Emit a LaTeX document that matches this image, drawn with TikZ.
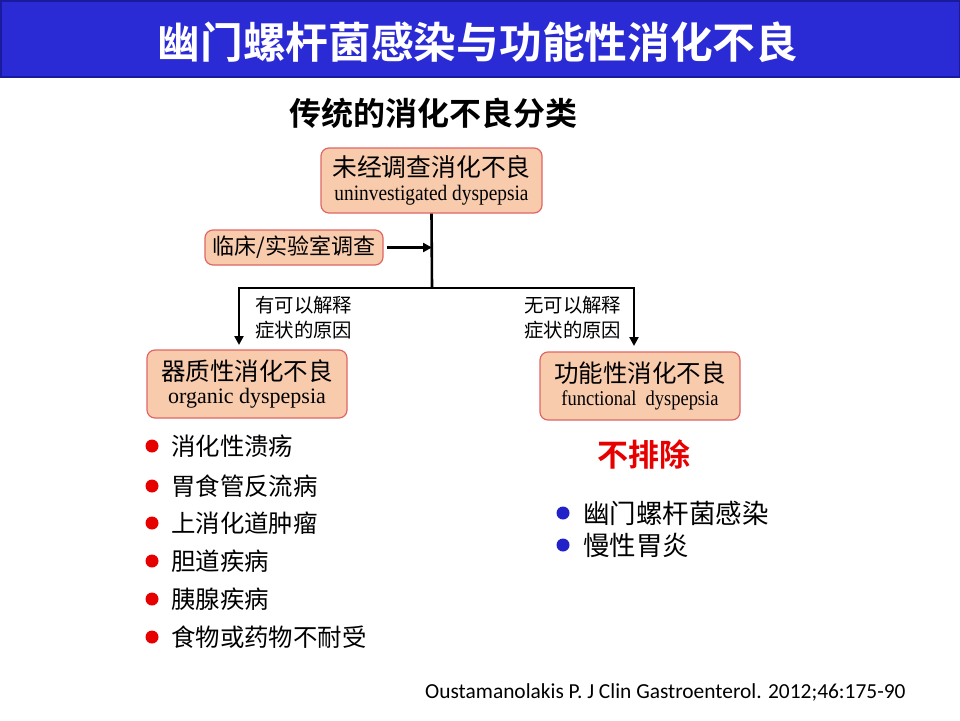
\documentclass[tikz,border=0pt]{standalone}
\usepackage{fontspec}
\setmainfont{Liberation Serif}
\newfontfamily\tnr[FakeStretch=0.88]{Liberation Serif}
\newfontfamily\cjk{Noto Sans CJK SC}
\newfontfamily\cjkb{Noto Sans CJK SC Bold}
\newfontfamily\cali{Carlito}
\usetikzlibrary{arrows.meta}
\definecolor{titleblue}{HTML}{2B2BD6}
\definecolor{titleedge}{HTML}{1A1A9E}
\definecolor{peach}{HTML}{F8CBAD}
\definecolor{boxedge}{HTML}{E06666}
\definecolor{bred}{HTML}{E60000}
\definecolor{bblue}{HTML}{2222C8}
\begin{document}
\begin{tikzpicture}[x=1pt,y=-1pt,
  box/.style={draw=boxedge,line width=1.2pt,fill=peach,rounded corners=8pt,inner sep=0pt,align=center},
  conn/.style={line width=2.6pt,draw=black},
  tip/.style={Triangle[length=9pt,width=9pt]},
  arr/.style={conn,-{Triangle[length=9pt,width=9pt]}},
  lab/.style={font=\cjk\fontsize{19.4}{25}\selectfont,align=left,anchor=west,inner sep=0pt},
  item/.style={font=\cjk\fontsize{24.4}{28}\selectfont,anchor=west,inner sep=0pt},
  rdot/.style={circle,fill=bred,minimum size=13pt,inner sep=0pt},
  bdot/.style={circle,fill=bblue,minimum size=13pt,inner sep=0pt}]
\useasboundingbox (0,0) rectangle (960,720);
\fill[white] (0,0) rectangle (960,720);
% title bar
\draw[fill=titleblue,draw=titleedge,line width=1.5pt] (0.75,0.75) rectangle (959.25,77);
\node[text=white,font=\cjkb\fontsize{42.7}{50}\selectfont] (title) at (478,42) {幽门螺杆菌感染与功能性消化不良};
\node[font=\cjkb\fontsize{32}{36}\selectfont] (sub) at (433,113) {传统的消化不良分类};
% boxes
\node[box,minimum width=221pt,minimum height=65pt] (u) at (431.5,180.5) {{\cjk\fontsize{24.8}{28}\selectfont 未经调查消化不良}\\[5pt]{\tnr\fontsize{22}{22}\selectfont uninvestigated dyspepsia}};
\node[box,minimum width=178pt,minimum height=35pt,font=\cjk\fontsize{22}{26}\selectfont] (clin) at (294,247.5) {临床/实验室调查};
\node[box,minimum width=200pt,minimum height=68pt] (org) at (247,384) {{\cjk\fontsize{24.5}{28}\selectfont 器质性消化不良}\\[5pt]{\fontsize{22}{22}\selectfont organic dyspepsia}};
\node[box,minimum width=200pt,minimum height=68pt] (fun) at (640,386) {{\cjk\fontsize{24.5}{28}\selectfont 功能性消化不良}\\[5pt]{\tnr\fontsize{21}{22}\selectfont functional\ \ dyspepsia}};
% connectors
\coordinate (j) at (432,288);
\coordinate (lt) at (239,345);
\coordinate (rt) at (634,346);
\coordinate (m) at (432,247.5);
\draw[conn] (u.south) -- (j);
\draw[arr] (clin.east) ++(3,0) -- (m);
\draw[conn,{Triangle[length=9pt,width=9pt]}-{Triangle[length=9pt,width=9pt]}] (lt) |- (j) -| (rt);
\node[lab] (l1) at (255,318) {有可以解释\\症状的原因};
\node[lab] (l2) at (524,318) {无可以解释\\症状的原因};
% left list
\foreach \y/\t [count=\i] in {446/消化性溃疡,486/胃食管反流病,523/上消化道肿瘤,561/胆道疾病,599/胰腺疾病,637/食物或药物不耐受}{
  \node[rdot] (rd\i) at (152,\y) {};
  \node[item] (it\i) at (171,\y) {\t};
}
% right
\node[font=\cjkb\fontsize{31}{34}\selectfont,text=bred] (nx) at (644,455) {不排除};
\node[bdot] (bd1) at (563,513) {};
\node[item,font=\cjk\fontsize{26.5}{30}\selectfont] (b1) at (583,513) {幽门螺杆菌感染};
\node[bdot] (bd2) at (563,545) {};
\node[item,font=\cjk\fontsize{26.5}{30}\selectfont] (b2) at (583,545) {慢性胃炎};
\node[font=\cali\fontsize{21.4}{24}\selectfont,anchor=west,inner sep=0pt] (cite) at (425,692) {Oustamanolakis P. J Clin Gastroenterol. 2012;46:175-90};
\end{tikzpicture}
\end{document}
